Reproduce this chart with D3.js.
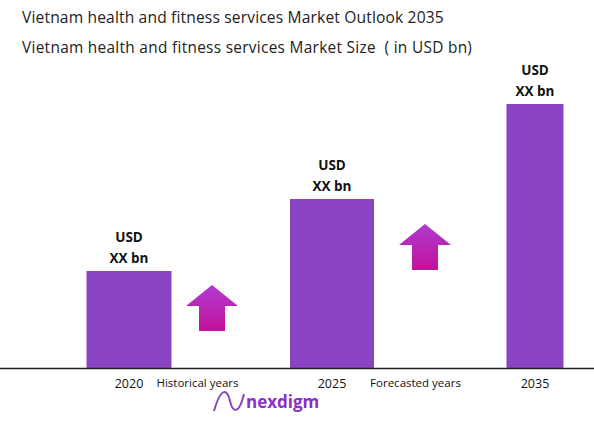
<!DOCTYPE html><html><head><script src="https://cdn.jsdelivr.net/npm/d3@7"></script>
<style>body{margin:0;background:#fff}</style></head><body><svg id="c" width="594" height="424"></svg>
<script>
const categories=["2020","2025","2035"];
const values=[97,169,264];
const barLabels=["USD","XX bn"];
const periodLabels=["Historical years","Forecasted years"];
const svg=d3.select("#c");
const f="'Open Sans', sans-serif";
const x=d3.scalePoint().domain(categories).range([129,535]);
const y=d3.scaleLinear().domain([0,264]).range([368,104]);
const widths=[85,84,57];
const defs=svg.append("defs");
const g=defs.append("linearGradient").attr("id","ag").attr("x1",0).attr("y1",0).attr("x2",0).attr("y2",1);
g.append("stop").attr("offset",0).attr("stop-color","#b03ad0");
g.append("stop").attr("offset",1).attr("stop-color","#c2129a");
svg.append("text").attr("x",22).attr("y",23).attr("font-family",f).attr("font-size",15.6).attr("letter-spacing",0.15).attr("fill","#222").text("Vietnam health and fitness services Market Outlook 2035");
svg.append("text").attr("x",22).attr("y",53).attr("font-family",f).attr("font-size",15.4).attr("letter-spacing",0.3).attr("fill","#222").text("Vietnam health and fitness services Market Size \u00a0( in USD bn)");
svg.selectAll("rect.bar").data(categories).join("rect").attr("x",(d,i)=>x(d)-widths[i]/2).attr("width",(d,i)=>widths[i])
 .attr("y",(d,i)=>y(values[i])).attr("height",(d,i)=>368-y(values[i])).attr("fill","#8a43c2");
categories.forEach((d,i)=>{barLabels.forEach((t,j)=>svg.append("text").attr("x",x(d)).attr("y",y(values[i])-29+j*21).attr("text-anchor","middle").attr("font-family",f).attr("font-weight","bold").attr("font-size",13.5).attr("fill","#111").text(t));
 svg.append("text").attr("x",x(d)).attr("y",388).attr("text-anchor","middle").attr("font-family",f).attr("font-size",12.5).attr("fill","#111").text(d);});
svg.append("line").attr("x1",0).attr("x2",594).attr("y1",368.5).attr("y2",368.5).attr("stroke","#222").attr("stroke-width",1.5);
const mids=[(x("2020")+x("2025"))/2,(x("2025")+x("2035"))/2];
periodLabels.forEach((t,i)=>svg.append("text").attr("x",mids[i]+(i?-18:-33)).attr("y",387).attr("text-anchor","middle").attr("font-family",f).attr("font-size",11.5).attr("fill","#111").text(t));
[[212,285],[425,224]].forEach(([cx,ty])=>{
 svg.append("path").attr("d",`M${cx},${ty} L${cx+26},${ty+21} L${cx+13},${ty+21} L${cx+13},${ty+46} L${cx-13},${ty+46} L${cx-13},${ty+21} L${cx-26},${ty+21} Z`).attr("fill","url(#ag)");});
svg.append("path").attr("d","M214,411 C222,383 228,392 230,401 C232,410 238,418 244,394").attr("fill","none").attr("stroke","#8a43c2").attr("stroke-width",2);
svg.append("text").attr("x",246).attr("y",408).attr("font-family",f).attr("font-weight","bold").attr("font-size",17).attr("fill","#8a2fc9").text("nexdigm");
</script></body></html>
